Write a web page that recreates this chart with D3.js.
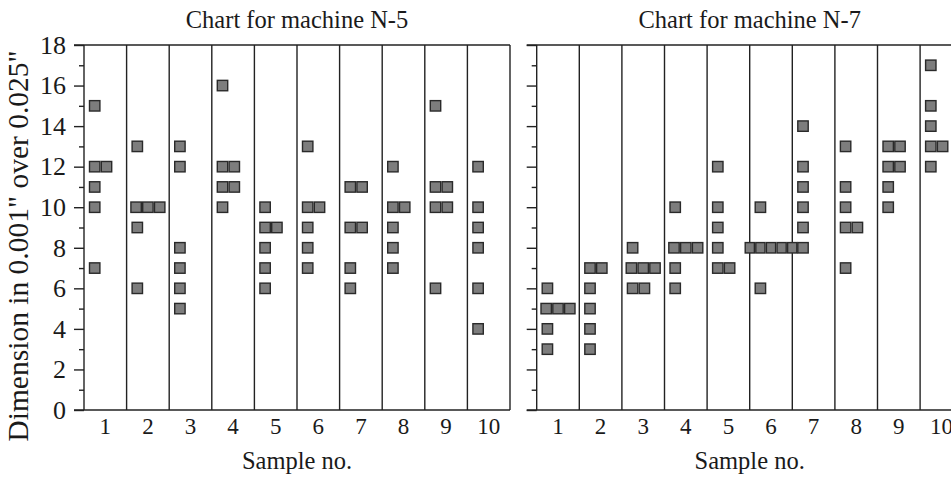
<!DOCTYPE html>
<html>
<head>
<meta charset="utf-8">
<script src="https://cdn.jsdelivr.net/npm/d3@7/dist/d3.min.js"></script>
<style>
  html, body { margin: 0; padding: 0; background: #fff; }
  svg { display: block; }
  text { font-family: "Liberation Serif", "DejaVu Serif", serif; fill: #1a1a1a; }
</style>
</head>
<body>
<script>
// ---- data ----
const sampleNumbers = [1, 2, 3, 4, 5, 6, 7, 8, 9, 10];
const yTickValues = [0, 2, 4, 6, 8, 10, 12, 14, 16, 18];
const yMinorTickValues = [1, 3, 5, 7, 9, 11, 13, 15, 17];
const machineN5 = [
  [15, 12, 12, 11, 10, 7],
  [13, 10, 10, 10, 9, 6],
  [13, 12, 8, 7, 6, 5],
  [16, 12, 12, 11, 11, 10],
  [10, 9, 9, 8, 7, 6],
  [13, 10, 10, 9, 8, 7],
  [11, 11, 9, 9, 7, 6],
  [12, 10, 10, 9, 8, 7],
  [15, 11, 11, 10, 10, 6],
  [12, 10, 9, 8, 6, 4]
];
const machineN7 = [
  [6, 5, 5, 5, 4, 3],
  [7, 7, 6, 5, 4, 3],
  [8, 7, 7, 7, 6, 6],
  [10, 8, 8, 8, 7, 6],
  [12, 10, 9, 8, 7, 7],
  [10, 8, 8, 8, 8, 8, 6],
  [14, 12, 11, 10, 9, 8],
  [13, 11, 10, 9, 9, 7],
  [13, 13, 12, 12, 11, 10],
  [17, 15, 14, 13, 13, 12]
];
const titles = ["Chart for machine N-5", "Chart for machine N-7"];
const xLabel = "Sample no.";
const yLabel = "Dimension in 0.001\" over 0.025\"";

// ---- layout ----
const W = 951, H = 477;
const svg = d3.select("body").append("svg").attr("width", W).attr("height", H);
const y = d3.scaleLinear().domain([0, 18]).range([410, 45]);
const lineColor = "#222";

const panels = [
  { data: machineN5, x0: 84, x1: 510, labels: true, title: titles[0] },
  { data: machineN7, x0: 536.7, x1: 962.7, labels: false, title: titles[1] }
];

panels.forEach(p => {
  const g = svg.append("g");
  const x = d3.scaleBand().domain(sampleNumbers).range([p.x0, p.x1]).padding(0);
  const bw = x.bandwidth();

  // top & bottom frame lines
  [0, 18].forEach(v => {
    g.append("line")
      .attr("x1", p.x0 - 10).attr("x2", Math.min(p.x1, W + 5))
      .attr("y1", y(v)).attr("y2", y(v))
      .attr("stroke", lineColor).attr("stroke-width", 1.4);
  });

  // column separators
  const bounds = sampleNumbers.map(s => x(s)).concat([p.x1]);
  g.selectAll(".vline").data(bounds).join("line")
    .attr("x1", d => d).attr("x2", d => d)
    .attr("y1", y(18)).attr("y2", y(0))
    .attr("stroke", lineColor).attr("stroke-width", 1.4);

  // y axis major
  const axMaj = d3.axisLeft(y).tickValues(yTickValues).tickSize(10).tickPadding(8)
    .tickFormat(p.labels ? d3.format("d") : () => "");
  const gy = g.append("g").attr("transform", `translate(${p.x0},0)`).call(axMaj);
  gy.select(".domain").remove();
  gy.selectAll(".tick line").attr("stroke", lineColor).attr("stroke-width", 1.4);
  gy.selectAll(".tick text").style("font-size", "26px").attr("fill", "#1a1a1a")
    .attr("font-family", "Liberation Serif");

  // y axis minor
  const axMin = d3.axisLeft(y).tickValues(yMinorTickValues).tickSize(5).tickFormat(() => "");
  const gm = g.append("g").attr("transform", `translate(${p.x0},0)`).call(axMin);
  gm.select(".domain").remove();
  gm.selectAll(".tick line").attr("stroke", lineColor).attr("stroke-width", 1.4);

  // x axis labels
  const axX = d3.axisBottom(x).tickSize(0).tickPadding(8);
  const gx = g.append("g").attr("transform", `translate(0,${y(0)})`).call(axX);
  gx.select(".domain").remove();
  gx.selectAll(".tick text").style("font-size", "23px").attr("fill", "#1a1a1a")
    .attr("font-family", "Liberation Serif");

  // squares
  const sq = 11.8;
  const squares = [];
  p.data.forEach((vals, i) => {
    const s = sampleNumbers[i];
    const groups = d3.rollups(vals, v => v.length, d => d);
    groups.forEach(([v, n]) => {
      const step = n >= 5 ? 10.6 : sq;
      const left = x(s);
      const center = left + bw / 2;
      const start = n >= 3 ? center - n * step / 2 : left + 4.8;
      for (let k = 0; k < n; k++) {
        squares.push({ x: start + k * step, y: y(v) - sq / 2, w: step });
      }
    });
  });
  g.selectAll(".sq").data(squares).join("rect")
    .attr("x", d => d.x + 0.7).attr("y", d => d.y + 0.7)
    .attr("width", d => d.w - 1.4).attr("height", sq - 1.4)
    .attr("fill", "#7d7d7d").attr("stroke", "#2a2a2a").attr("stroke-width", 1.4);

  // titles
  const cx = (p.x0 + p.x1) / 2;
  g.append("text").attr("x", cx).attr("y", 28).attr("text-anchor", "middle")
    .style("font-size", "24.5px").text(p.title);
  g.append("text").attr("x", cx).attr("y", 469).attr("text-anchor", "middle")
    .style("font-size", "24.5px").text(xLabel);
});

// y label
svg.append("text")
  .attr("transform", `translate(28,246) rotate(-90)`)
  .attr("text-anchor", "middle")
  .style("font-size", "29.5px")
  .text(yLabel);
</script>
</body>
</html>
